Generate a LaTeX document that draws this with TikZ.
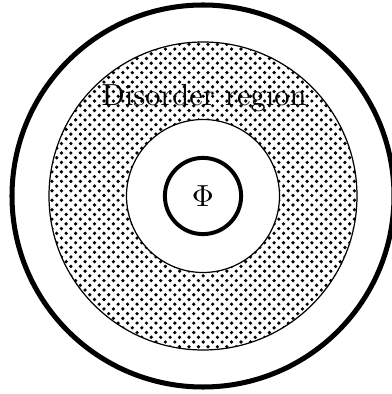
\documentclass[tikz,border=0pt]{standalone}
\usepackage{tikz}
\usetikzlibrary{patterns}

\pgfdeclarepatternformonly{ringdots}{\pgfqpoint{-1pt}{-1pt}}{\pgfqpoint{2.3pt}{2.3pt}}{\pgfqpoint{3.1pt}{3.1pt}}{%
    \pgfpathcircle{\pgfqpoint{0pt}{0pt}}{.6pt}
    \pgfpathcircle{\pgfqpoint{1.55pt}{1.55pt}}{.6pt}
    \pgfusepath{fill}
}

\begin{document}
\begin{tikzpicture}[x=0.328pt, y=0.328pt]
    \useasboundingbox (0,0) rectangle (391,394);
    \coordinate (c) at (203,198);

    % disorder ring
    \fill[pattern=ringdots, even odd rule] (c) circle (154) (c) circle (76.5);
    \draw[line width=0.4pt] (c) circle (154);
    \draw[line width=0.4pt] (c) circle (76.5);

    % outer boundary
    \draw[line width=1.65pt] (c) circle (191);

    \node[draw, circle, line width=1.3pt, inner sep=0, minimum size=25pt] (phi) at (c) {$\Phi$};
    \node[inner sep=0] (disorder) at (204,296) {Disorder region};
\end{tikzpicture}
\end{document}
